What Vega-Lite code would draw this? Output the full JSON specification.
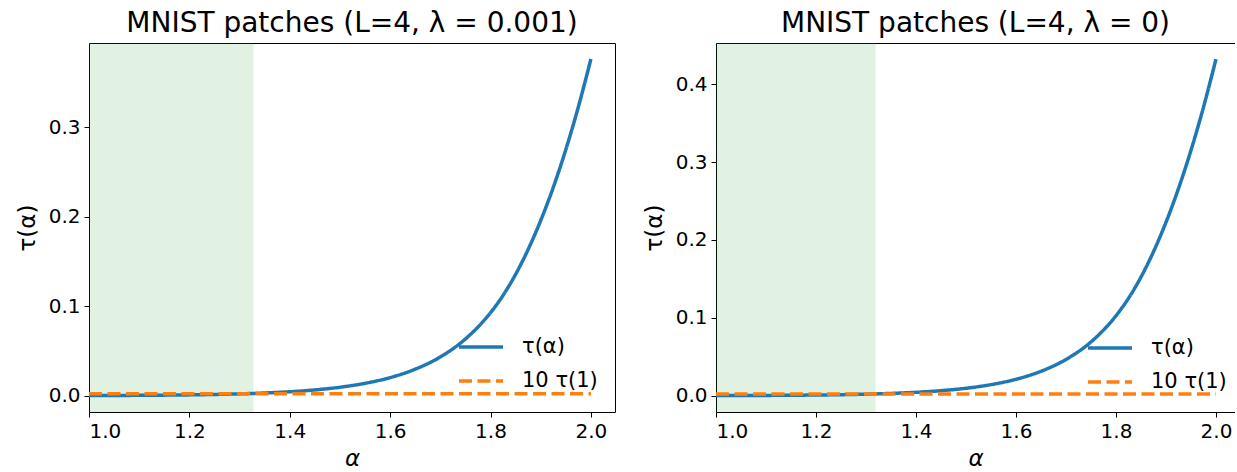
{
  "$schema": "https://vega.github.io/schema/vega-lite/v6.json",
  "padding": {"left": 15, "top": 9, "right": 0, "bottom": 0},
  "background": "white",
  "config": {
    "font": "DejaVu Sans",
    "view": {"stroke": "#000", "strokeWidth": 1},
    "axis": {
      "labelFont": "DejaVu Sans", "labelFontSize": 20, "labelColor": "#000",
      "tickColor": "#000", "tickSize": 5, "tickWidth": 1, "labelPadding": 4,
      "domain": false, "grid": false,
      "titleFont": "DejaVu Sans", "titleFontSize": 23, "titleFontWeight": "normal", "titleColor": "#000"
    },
    "axisX": {"titlePadding": 6, "titleFontStyle": "italic"},
    "axisY": {"titlePadding": 9},
    "title": {"font": "DejaVu Sans", "fontSize": 28, "fontWeight": "normal", "color": "#000", "offset": 5},
    "legend": {
      "labelFont": "DejaVu Sans", "labelFontSize": 21, "labelColor": "#000",
      "symbolType": "stroke", "symbolSize": 1936, "symbolStrokeWidth": 3.5,
      "labelOffset": 17, "padding": 0, "rowPadding": 0
    }
  },
  "datasets": {
    "leftTau": [
      {"alpha": 1.0, "tau": 0.00021, "series": "τ(α)"},
      {"alpha": 1.05, "tau": 0.00031, "series": "τ(α)"},
      {"alpha": 1.1, "tau": 0.00045, "series": "τ(α)"},
      {"alpha": 1.15, "tau": 0.00066, "series": "τ(α)"},
      {"alpha": 1.2, "tau": 0.00097, "series": "τ(α)"},
      {"alpha": 1.25, "tau": 0.00142, "series": "τ(α)"},
      {"alpha": 1.3, "tau": 0.00208, "series": "τ(α)"},
      {"alpha": 1.35, "tau": 0.00304, "series": "τ(α)"},
      {"alpha": 1.4, "tau": 0.00444, "series": "τ(α)"},
      {"alpha": 1.45, "tau": 0.0065, "series": "τ(α)"},
      {"alpha": 1.5, "tau": 0.0095, "series": "τ(α)"},
      {"alpha": 1.55, "tau": 0.0139, "series": "τ(α)"},
      {"alpha": 1.6, "tau": 0.0203, "series": "τ(α)"},
      {"alpha": 1.65, "tau": 0.0297, "series": "τ(α)"},
      {"alpha": 1.7, "tau": 0.0434, "series": "τ(α)"},
      {"alpha": 1.75, "tau": 0.0635, "series": "τ(α)"},
      {"alpha": 1.8, "tau": 0.0929, "series": "τ(α)"},
      {"alpha": 1.825, "tau": 0.1123, "series": "τ(α)"},
      {"alpha": 1.85, "tau": 0.1358, "series": "τ(α)"},
      {"alpha": 1.875, "tau": 0.1637, "series": "τ(α)"},
      {"alpha": 1.9, "tau": 0.196, "series": "τ(α)"},
      {"alpha": 1.925, "tau": 0.233, "series": "τ(α)"},
      {"alpha": 1.95, "tau": 0.2753, "series": "τ(α)"},
      {"alpha": 1.975, "tau": 0.3231, "series": "τ(α)"},
      {"alpha": 2.0, "tau": 0.3766, "series": "τ(α)"}
    ],
    "leftRef": [
      {"alpha": 1.0, "tau": 0.0023, "series": "10 τ(1)"},
      {"alpha": 2.0, "tau": 0.0023, "series": "10 τ(1)"}
    ],
    "leftSpan": [{"start": 1.0, "end": 1.3275}],
    "rightTau": [
      {"alpha": 1.0, "tau": 0.000185, "series": "τ(α)"},
      {"alpha": 1.05, "tau": 0.000274, "series": "τ(α)"},
      {"alpha": 1.1, "tau": 0.000407, "series": "τ(α)"},
      {"alpha": 1.15, "tau": 0.000604, "series": "τ(α)"},
      {"alpha": 1.2, "tau": 0.000897, "series": "τ(α)"},
      {"alpha": 1.25, "tau": 0.00133, "series": "τ(α)"},
      {"alpha": 1.3, "tau": 0.00198, "series": "τ(α)"},
      {"alpha": 1.35, "tau": 0.00294, "series": "τ(α)"},
      {"alpha": 1.4, "tau": 0.00436, "series": "τ(α)"},
      {"alpha": 1.45, "tau": 0.00646, "series": "τ(α)"},
      {"alpha": 1.5, "tau": 0.00959, "series": "τ(α)"},
      {"alpha": 1.55, "tau": 0.01424, "series": "τ(α)"},
      {"alpha": 1.6, "tau": 0.02114, "series": "τ(α)"},
      {"alpha": 1.65, "tau": 0.0314, "series": "τ(α)"},
      {"alpha": 1.7, "tau": 0.0466, "series": "τ(α)"},
      {"alpha": 1.75, "tau": 0.0691, "series": "τ(α)"},
      {"alpha": 1.8, "tau": 0.1027, "series": "τ(α)"},
      {"alpha": 1.825, "tau": 0.1251, "series": "τ(α)"},
      {"alpha": 1.85, "tau": 0.1524, "series": "τ(α)"},
      {"alpha": 1.875, "tau": 0.1849, "series": "τ(α)"},
      {"alpha": 1.9, "tau": 0.2227, "series": "τ(α)"},
      {"alpha": 1.925, "tau": 0.266, "series": "τ(α)"},
      {"alpha": 1.95, "tau": 0.3151, "series": "τ(α)"},
      {"alpha": 1.975, "tau": 0.3705, "series": "τ(α)"},
      {"alpha": 2.0, "tau": 0.4322, "series": "τ(α)"}
    ],
    "rightRef": [
      {"alpha": 1.0, "tau": 0.0023, "series": "10 τ(1)"},
      {"alpha": 2.0, "tau": 0.0023, "series": "10 τ(1)"}
    ],
    "rightSpan": [{"start": 1.0, "end": 1.319}]
  },
  "spacing": 27,
  "resolve": {
    "scale": {"color": "independent", "strokeDash": "independent"},
    "legend": {"color": "independent", "strokeDash": "independent"}
  },
  "hconcat": [
    {
      "width": 526,
      "height": 369,
      "title": "MNIST patches (L=4, λ = 0.001)",
      "layer": [
        {
          "data": {"name": "leftSpan"},
          "mark": {"type": "rect", "color": "#2ca02c", "opacity": 0.13, "stroke": "#2ca02c", "strokeWidth": 1, "strokeOpacity": 0.13},
          "encoding": {
            "x": {"field": "start", "type": "quantitative", "scale": {"domain": [1, 2.048], "nice": false, "zero": false}},
            "x2": {"field": "end"}
          }
        },
        {
          "data": {"name": "leftTau"},
          "mark": {"type": "line", "strokeWidth": 3.5, "interpolate": "monotone"},
          "encoding": {
            "x": {"field": "alpha", "type": "quantitative", "title": "α", "scale": {"domain": [1, 2.048], "nice": false, "zero": false}, "axis": {"values": [1, 1.2, 1.4, 1.6, 1.8, 2.0], "format": ".1f"}},
            "y": {"field": "tau", "type": "quantitative", "title": "τ(α)", "scale": {"domain": [-0.0182, 0.3945], "nice": false, "zero": false}, "axis": {"values": [0, 0.1, 0.2, 0.3], "format": ".1f"}},
            "color": {"field": "series", "type": "nominal", "scale": {"domain": ["τ(α)", "10 τ(1)"], "range": ["#1f77b4", "#ff7f0e"]}, "legend": {"orient": "none", "legendX": 368, "legendY": 280, "title": null}},
            "strokeDash": {"field": "series", "type": "nominal", "scale": {"domain": ["τ(α)", "10 τ(1)"], "range": [[1, 0], [13, 5.5]]}, "legend": {"orient": "none", "legendX": 368, "legendY": 280, "title": null}}
          }
        },
        {
          "data": {"name": "leftRef"},
          "mark": {"type": "line", "strokeWidth": 3.5},
          "encoding": {
            "x": {"field": "alpha", "type": "quantitative"},
            "y": {"field": "tau", "type": "quantitative"},
            "color": {"field": "series", "type": "nominal"},
            "strokeDash": {"field": "series", "type": "nominal"}
          }
        }
      ]
    },
    {
      "width": 519,
      "height": 369,
      "title": "MNIST patches (L=4, λ = 0)",
      "view": {"stroke": null},
      "resolve": {"axis": {"x": "independent"}},
      "layer": [
        {
          "data": {"name": "rightSpan"},
          "mark": {"type": "rect", "color": "#2ca02c", "opacity": 0.13, "stroke": "#2ca02c", "strokeWidth": 1, "strokeOpacity": 0.13},
          "encoding": {
            "x": {"field": "start", "type": "quantitative", "scale": {"domain": [1, 2.038], "nice": false, "zero": false}, "axis": {"orient": "top", "labels": false, "ticks": false, "domain": true, "domainColor": "#000", "domainWidth": 1, "title": null}},
            "x2": {"field": "end"}
          }
        },
        {
          "data": {"name": "rightTau"},
          "mark": {"type": "line", "strokeWidth": 3.5, "interpolate": "monotone"},
          "encoding": {
            "x": {"field": "alpha", "type": "quantitative", "title": "α", "scale": {"domain": [1, 2.038], "nice": false, "zero": false}, "axis": {"orient": "bottom", "values": [1, 1.2, 1.4, 1.6, 1.8, 2.0], "format": ".1f", "domain": true, "domainColor": "#000", "domainWidth": 1}},
            "y": {"field": "tau", "type": "quantitative", "title": "τ(α)", "scale": {"domain": [-0.0209, 0.4528], "nice": false, "zero": false}, "axis": {"values": [0, 0.1, 0.2, 0.3, 0.4], "format": ".1f", "domain": true, "domainColor": "#000", "domainWidth": 1}},
            "color": {"field": "series", "type": "nominal", "scale": {"domain": ["τ(α)", "10 τ(1)"], "range": ["#1f77b4", "#ff7f0e"]}, "legend": {"orient": "none", "legendX": 370, "legendY": 281, "title": null}},
            "strokeDash": {"field": "series", "type": "nominal", "scale": {"domain": ["τ(α)", "10 τ(1)"], "range": [[1, 0], [13, 5.5]]}, "legend": {"orient": "none", "legendX": 370, "legendY": 281, "title": null}}
          }
        },
        {
          "data": {"name": "rightRef"},
          "mark": {"type": "line", "strokeWidth": 3.5},
          "encoding": {
            "x": {"field": "alpha", "type": "quantitative", "axis": null},
            "y": {"field": "tau", "type": "quantitative"},
            "color": {"field": "series", "type": "nominal"},
            "strokeDash": {"field": "series", "type": "nominal"}
          }
        }
      ]
    }
  ]
}
